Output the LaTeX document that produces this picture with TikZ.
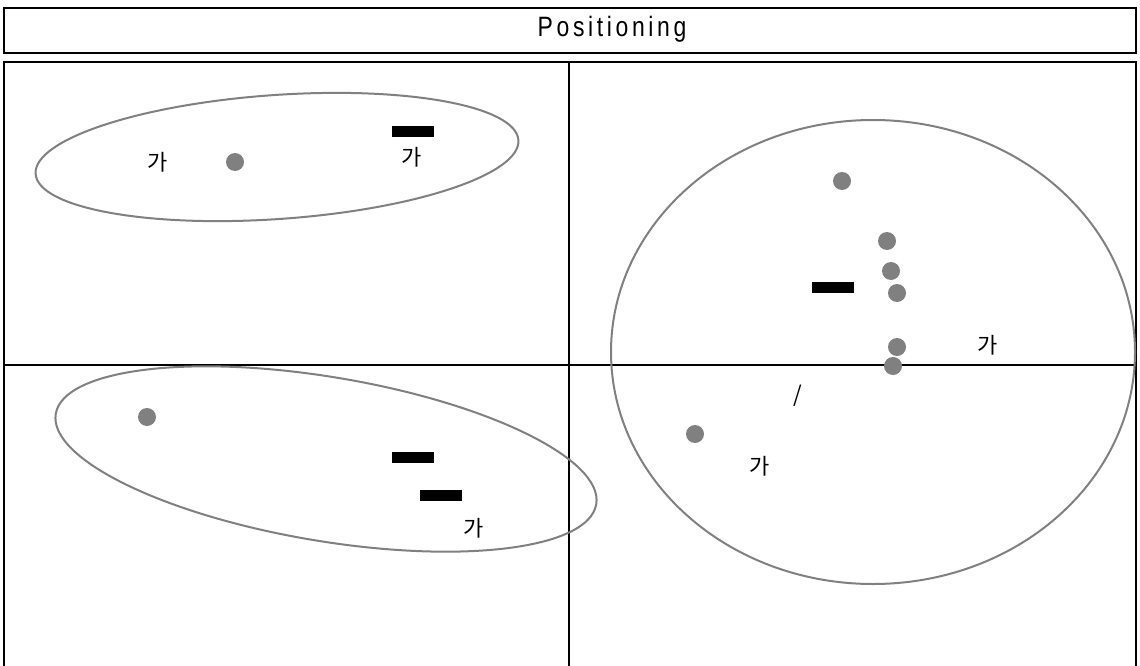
\documentclass[tikz,border=0pt]{standalone}
\usepackage{fontspec}
\setmainfont{Liberation Sans}
\newfontfamily\titlefont{Liberation Sans}[FakeStretch=0.82,LetterSpace=13]
\newfontfamily\kfont{Noto Sans CJK KR}
\usepackage{tikz}

\begin{document}
\begin{tikzpicture}[x=1pt, y=-1pt]
	\tikzstyle{frame} = [draw=black, line width=2.5pt]
	\tikzstyle{cluster} = [draw=gray, line width=2pt]
	\tikzstyle{dot} = [circle, fill=gray, minimum size=18pt, inner sep=0pt]
	\tikzstyle{bar} = [rectangle, fill=black, minimum width=42pt, minimum height=11pt, inner sep=0pt]
	\tikzstyle{hangul} = [font=\kfont\fontsize{22}{22}\selectfont, inner sep=0pt]
	\useasboundingbox (0,0) rectangle (1140,666);
	\node[frame, minimum width=1132pt, minimum height=45pt] (Title) at (570,30.5) {};
	\node[font=\titlefont\fontsize{28}{28}\selectfont, inner sep=0pt] (TitleText) at (612,29) {Positioning};
	\draw[frame] (4,62) rectangle (1136,670);
	\draw[frame] (569,62) -- (569,670);
	\draw[frame] (4,365) -- (1136,365);
	\draw[cluster, rotate around={4:(277,157)}] (277,157) ellipse [x radius=242pt, y radius=62pt];
	\draw[cluster, rotate around={-9.5:(326,459)}] (326,459) ellipse [x radius=274pt, y radius=82pt];
	\draw[cluster] (873,352) ellipse [x radius=262pt, y radius=232pt];
	\node[dot] (DotA) at (235,162) {};
	\node[dot] (DotB) at (842,181) {};
	\node[dot] (DotC) at (887,241) {};
	\node[dot] (DotD) at (891,271) {};
	\node[dot] (DotE) at (897,293) {};
	\node[dot] (DotF) at (897,347) {};
	\node[dot] (DotG) at (893,366) {};
	\node[dot] (DotH) at (147,417) {};
	\node[dot] (DotI) at (695,434) {};
	\node[bar] (BarA) at (413,132) {};
	\node[bar] (BarB) at (833,287.5) {};
	\node[bar] (BarC) at (413,457.5) {};
	\node[bar] (BarD) at (441,495.5) {};
	\node[hangul] (GaA) at (158,162) {가};
	\node[hangul] (GaB) at (412,157) {가};
	\node[hangul] (GaC) at (988,345) {가};
	\node[hangul] (GaD) at (760,466) {가};
	\node[hangul] (GaE) at (474,528) {가};
	\node[hangul] (Slash) at (798,396) {/};
\end{tikzpicture}
\end{document}
